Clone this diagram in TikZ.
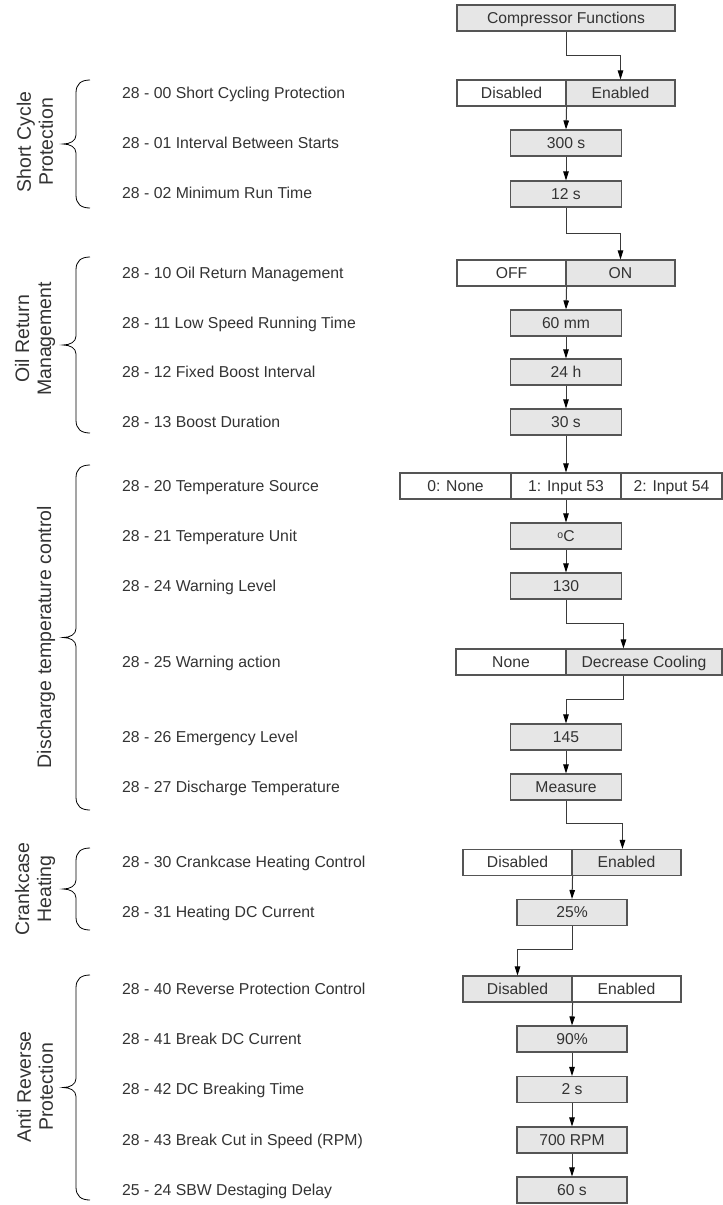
\documentclass[tikz,border=0pt]{standalone}
\usepackage{fontspec}
\setmainfont{Liberation Sans}
\usetikzlibrary{arrows.meta}
\definecolor{boxfill}{HTML}{E6E6E6}
\definecolor{boxline}{HTML}{555555}
\definecolor{txt}{HTML}{333333}
\definecolor{connc}{HTML}{3A3A3A}
\newcommand\grpbrace[2]{%
  \pgfmathsetmacro\bm{(#1+#2)/2}%
  \draw[brc] (90,#1) .. controls (81,#1) and (76,#1+4) .. (76,#1+13) -- (76,\bm-9)
    .. controls (76,\bm-3) and (70,\bm) .. (63,\bm)
    .. controls (70,\bm) and (76,\bm+3) .. (76,\bm+9) -- (76,#2-13)
    .. controls (76,#2-4) and (81,#2) .. (90,#2);}
\begin{document}
\begin{tikzpicture}[x=1pt,y=-1pt,
  cell/.style={draw=boxline, line width=1.1pt, minimum height=26pt, inner sep=0pt, text=txt,
    text height=11pt, text depth=1pt, font=\fontsize{15.7}{18}\selectfont},
  on/.style={cell, fill=boxfill},
  off/.style={cell, fill=white},
  lab/.style={anchor=west, inner sep=0pt, text=txt, text height=11pt, text depth=1pt,
    font=\fontsize{15.8}{18}\selectfont},
  grp/.style={rotate=90, align=center, inner sep=0pt, text=txt, font=\fontsize{19.5}{22}\selectfont},
  conn/.style={draw=connc, line width=1pt, -{Triangle[length=9pt,width=5.5pt,color=black]}},
  brc/.style={draw=black, line width=0.8pt}]
\useasboundingbox (0,0) rectangle (723,1205);

% ---------- boxes ----------
\node[on,  minimum width=218pt] (cf) at (566,18) {Compressor Functions};

\node[off, minimum width=109pt] (sc0) at (511.5,93) {Disabled};
\node[on,  minimum width=109pt] (sc1) at (620.5,93) {Enabled};
\node[on,  minimum width=111pt] (v300) at (566,143) {300 s};
\node[on,  minimum width=111pt] (v12) at (566,194) {12 s};

\node[off, minimum width=109pt] (or0) at (511.5,273) {OFF};
\node[on,  minimum width=109pt] (or1) at (620.5,273) {ON};
\node[on,  minimum width=111pt] (v60m) at (566,323) {60 mm};
\node[on,  minimum width=111pt] (v24) at (566,372) {24 h};
\node[on,  minimum width=111pt] (v30) at (566,422) {30 s};

\node[off, minimum width=111pt] (ts0) at (455.5,486) {0: None};
\node[off, minimum width=110pt] (ts1) at (566,486) {1: Input 53};
\node[off, minimum width=101pt] (ts2) at (671.5,486) {2: Input 54};
\node[on,  minimum width=111pt] (vC) at (566,536) {\raisebox{0.35ex}{\fontsize{10.5}{12}\selectfont o}C};
\node[on,  minimum width=111pt] (v130) at (566,586) {130};

\node[off, minimum width=110pt] (wa0) at (511,662) {None};
\node[on,  minimum width=156pt] (wa1) at (644,662) {Decrease Cooling};
\node[on,  minimum width=111pt] (v145) at (566,737) {145};
\node[on,  minimum width=111pt] (vM) at (566,787) {Measure};

\node[off, minimum width=109pt] (ch0) at (517.5,862.5) {Disabled};
\node[on,  minimum width=109pt] (ch1) at (626.5,862.5) {Enabled};
\node[on,  minimum width=110pt] (v25) at (572,912.5) {25\%};

\node[on,  minimum width=109pt] (rp0) at (517.5,989) {Disabled};
\node[off, minimum width=109pt] (rp1) at (626.5,989) {Enabled};
\node[on,  minimum width=110pt] (v90) at (572,1039) {90\%};
\node[on,  minimum width=110pt] (v2) at (572,1089.5) {2 s};
\node[on,  minimum width=110pt] (v700) at (572,1140) {700 RPM};
\node[on,  minimum width=110pt] (v60) at (572,1190) {60 s};

% ---------- connector end points ----------
\coordinate (wain) at ([xshift=58pt]wa1.north west);
\coordinate (waout) at ([xshift=58pt]wa1.south west);
\coordinate (chin) at ([xshift=51pt]ch1.north west);

% ---------- connectors ----------
\draw[conn] (cf.south) -- ++(0,24) -| (sc1.north);
\draw[conn] (sc0.south east) -- (v300.north);
\draw[conn] (v300.south) -- (v12.north);
\draw[conn] (v12.south) -- ++(0,26) -| (or1.north);
\draw[conn] (or0.south east) -- (v60m.north);
\draw[conn] (v60m.south) -- (v24.north);
\draw[conn] (v24.south) -- (v30.north);
\draw[conn] (v30.south) -- (ts1.north);
\draw[conn] (ts1.south) -- (vC.north);
\draw[conn] (vC.south) -- (v130.north);
\draw[conn] (v130.south) -- ++(0,24) -| (wain);
\draw[conn] (waout) -- ++(0,24) -| (v145.north);
\draw[conn] (v145.south) -- (vM.north);
\draw[conn] (vM.south) -- ++(0,23) -| (chin);
\draw[conn] (ch0.south east) -- (v25.north);
\draw[conn] (v25.south) -- ++(0,23) -| (rp0.north);
\draw[conn] (rp0.south east) -- (v90.north);
\draw[conn] (v90.south) -- (v2.north);
\draw[conn] (v2.south) -- (v700.north);
\draw[conn] (v700.south) -- (v60.north);

% ---------- parameter labels ----------
\node[lab] (l2800) at (122,93) {28 - 00 Short Cycling Protection};
\node[lab] (l2801) at (122,143) {28 - 01 Interval Between Starts};
\node[lab] (l2802) at (122,193) {28 - 02 Minimum Run Time};
\node[lab] (l2810) at (122,273) {28 - 10 Oil Return Management};
\node[lab] (l2811) at (122,323) {28 - 11 Low Speed Running Time};
\node[lab] (l2812) at (122,372) {28 - 12 Fixed Boost Interval};
\node[lab] (l2813) at (122,422) {28 - 13 Boost Duration};
\node[lab] (l2820) at (122,486) {28 - 20 Temperature Source};
\node[lab] (l2821) at (122,536) {28 - 21 Temperature Unit};
\node[lab] (l2824) at (122,586) {28 - 24 Warning Level};
\node[lab] (l2825) at (122,662) {28 - 25 Warning action};
\node[lab] (l2826) at (122,737) {28 - 26 Emergency Level};
\node[lab] (l2827) at (122,787) {28 - 27 Discharge Temperature};
\node[lab] (l2830) at (122,862) {28 - 30 Crankcase Heating Control};
\node[lab] (l2831) at (122,912) {28 - 31 Heating DC Current};
\node[lab] (l2840) at (122,989) {28 - 40 Reverse Protection Control};
\node[lab] (l2841) at (122,1039) {28 - 41 Break DC Current};
\node[lab] (l2842) at (122,1089) {28 - 42 DC Breaking Time};
\node[lab] (l2843) at (122,1140) {28 - 43 Break Cut in Speed (RPM)};
\node[lab] (l2524) at (122,1190) {25 - 24 SBW Destaging Delay};

% ---------- group braces and titles ----------
\grpbrace{80}{208}
\grpbrace{257}{433}
\grpbrace{465}{810}
\grpbrace{848}{930}
\grpbrace{975}{1200}

\node[grp] (g1) at (35,142) {Short Cycle\\Protection};
\node[grp] (g2) at (35,339) {Oil Return\\Management};
\node[grp] (g3) at (46,637) {Discharge temperature control};
\node[grp] (g4) at (35,889) {Crankcase\\Heating};
\node[grp] (g5) at (35,1087) {Anti Reverse\\Protection};
\end{tikzpicture}
\end{document}
